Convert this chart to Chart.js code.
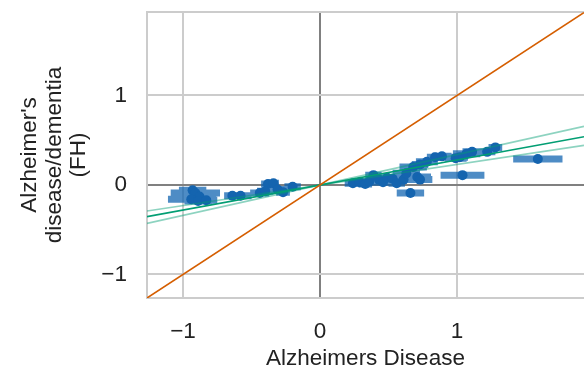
<!DOCTYPE html>
<html>
<head>
<meta charset="utf-8">
<script src="https://cdn.jsdelivr.net/npm/chart.js@4"></script>
<style>
  html, body { margin: 0; padding: 0; background: #fff; }
  #wrap { width: 584px; height: 376px; }
</style>
</head>
<body>
<div id="wrap"><canvas id="chart"></canvas></div>
<script>
// estimates
var xVals = [-0.93, -0.91, -0.88, -0.94, -0.89, -0.83,
  -0.64, -0.58, -0.44, -0.38, -0.34, -0.40, -0.31, -0.20, -0.27,
  0.24, 0.29, 0.33, 0.36, 0.39, 0.43, 0.46, 0.49, 0.53, 0.56, 0.61, 0.63, 0.71, 0.73,
  0.68, 0.73, 0.78, 0.84, 0.89, 0.99, 1.02, 1.07, 1.11, 1.22, 1.28,
  0.66, 1.04, 1.59];
var yVals = [-0.06, -0.09, -0.13, -0.16, -0.18, -0.17,
  -0.12, -0.12, -0.09, 0.01, 0.02, -0.07, -0.05, -0.02, -0.08,
  0.02, 0.03, 0.01, 0.04, 0.11, 0.06, 0.03, 0.08, 0.07, 0.02, 0.06, 0.13, 0.09, 0.06,
  0.20, 0.23, 0.26, 0.31, 0.32, 0.30, 0.31, 0.35, 0.37, 0.37, 0.42,
  -0.09, 0.11, 0.29];
var xErr = [0.10, 0.18, 0.12, 0.17, 0.10, 0.08,
  0.06, 0.08, 0.07, 0.05, 0.04, 0.06, 0.05, 0.06, 0.05,
  0.06, 0.05, 0.05, 0.08, 0.06, 0.05, 0.08, 0.07, 0.06, 0.06, 0.10, 0.10, 0.10, 0.09,
  0.10, 0.06, 0.08, 0.06, 0.07, 0.08, 0.06, 0.10, 0.07, 0.06, 0.05,
  0.10, 0.16, 0.18];

var identitySlope = 1;
var fitSlope = 0.28;
var boundSlopes = [0.34, 0.23];

var xMin = -1.263, xMax = 1.927;
var yMin = -1.263, yMax = 1.933;

var orange = "#d55e00";
var green = "#029e73";

var points = xVals.map(function (x, i) { return { x: x, y: yVals[i] }; });

var errSegments = [];
xVals.forEach(function (x, i) {
  errSegments.push({ x: x - xErr[i], y: yVals[i] });
  errSegments.push({ x: x + xErr[i], y: yVals[i] });
  errSegments.push({ x: x, y: null });
});

function lineThrough(slope) {
  return [{ x: xMin, y: xMin * slope }, { x: xMax, y: xMax * slope }];
}

function tickText(v) {
  if (!Number.isInteger(v)) return "";
  return v < 0 ? "\u2212" + Math.abs(v) : String(v);
}

function gridColor(c) {
  return c.tick && c.tick.value === 0 ? "#808080" : "#cccccc";
}

var font = { family: "'Liberation Sans', Arial, sans-serif", size: 22.5 };

new Chart("chart", {
  type: "scatter",
  data: {
    datasets: [
      {
        type: "line", data: lineThrough(identitySlope),
        borderColor: orange, borderWidth: 1.6, pointRadius: 0, order: 1
      },
      {
        type: "line", data: lineThrough(fitSlope),
        borderColor: green, borderWidth: 1.6, pointRadius: 0, order: 1
      },
      {
        type: "line", data: lineThrough(boundSlopes[0]),
        borderColor: "rgba(2,158,115,0.45)", borderWidth: 1.6, pointRadius: 0, order: 1
      },
      {
        type: "line", data: lineThrough(boundSlopes[1]),
        borderColor: "rgba(2,158,115,0.45)", borderWidth: 1.6, pointRadius: 0, order: 1
      },
      {
        data: points,
        backgroundColor: "rgb(20,100,175)", borderWidth: 0,
        pointRadius: 5, order: 2
      },
      {
        type: "line", data: errSegments, spanGaps: false,
        borderColor: "rgba(10,95,175,0.72)", borderWidth: 7, borderCapStyle: "butt",
        pointRadius: 0, order: 3
      }
    ]
  },
  options: {
    responsive: true,
    maintainAspectRatio: false,
    animation: false,
    layout: { autoPadding: false, padding: { top: 12, right: 0, left: 0, bottom: 0 } },
    plugins: { legend: { display: false }, tooltip: { enabled: false } },
    scales: {
      x: {
        type: "linear", min: xMin, max: xMax,
        afterBuildTicks: function (s) { s.ticks = [xMin, -1, 0, 1].map(function (v) { return { value: v }; }); },
        afterFit: function (s) { s.height = 78; s.paddingLeft = 0; s.paddingRight = 0; },
        grid: { drawTicks: false, lineWidth: 2, color: gridColor },
        border: { color: "#cccccc", width: 2 },
        ticks: { padding: 20, color: "#222", font: font, callback: tickText, maxRotation: 0 },
        title: { display: true, text: "Alzheimers Disease", color: "#222", font: font, padding: { top: 0, bottom: 4 } }
      },
      y: {
        type: "linear", min: yMin, max: yMax,
        afterBuildTicks: function (s) { s.ticks = [-1, 0, 1, yMax].map(function (v) { return { value: v }; }); },
        afterFit: function (s) { s.width = 147; s.paddingTop = 0; s.paddingBottom = 0; },
        grid: { drawTicks: false, lineWidth: 2, color: gridColor },
        border: { color: "#cccccc", width: 2 },
        ticks: { padding: 20, color: "#222", font: font, callback: tickText },
        title: {
          display: true, text: ["Alzheimer's", "disease/dementia", "(FH)"],
          color: "#222", font: { family: font.family, size: 22.5, lineHeight: 1.08 },
          padding: { top: 18, bottom: 0 }
        }
      }
    }
  }
});
</script>
</body>
</html>
